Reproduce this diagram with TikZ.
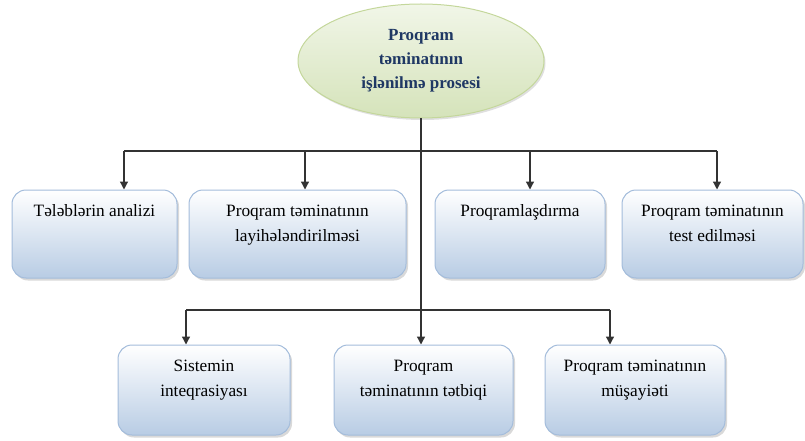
\documentclass[tikz,border=0pt]{standalone}
\usepackage{fontspec}
\setmainfont{Liberation Serif}
\usetikzlibrary{shapes.geometric,shadows,arrows.meta,positioning}
\definecolor{boxblue}{HTML}{B8CCE4}
\definecolor{boxedge}{HTML}{A3BCDB}
\definecolor{greentop}{HTML}{F1F6E8}
\definecolor{greenbot}{HTML}{D5E3BA}
\definecolor{greenedge}{HTML}{C4D79B}
\definecolor{navy}{HTML}{1F3864}
\begin{document}
\begin{tikzpicture}[x=1pt,y=-1pt,
  box/.style={draw=boxedge, line width=1pt, rounded corners=14pt,
    top color=white, bottom color=boxblue, inner sep=0pt,
    drop shadow={shadow xshift=2pt,shadow yshift=-2.5pt,opacity=.3}},
  boxtext/.style={inner sep=0pt, align=center, font=\fontsize{17.3}{25}\selectfont},
  title/.style={ellipse, draw=greenedge, line width=1pt, top color=greentop,
    bottom color=greenbot, minimum width=246pt, minimum height=114pt,
    align=center, text=navy, font=\fontsize{17}{24}\selectfont\bfseries,
    drop shadow={shadow xshift=1.5pt,shadow yshift=-2pt,opacity=.25}},
  bar/.style={line width=1.3pt, draw=black!80},
  conn/.style={bar, -{Triangle[length=8pt,width=8pt]}}
]
\useasboundingbox (0,0) rectangle (805,441);

\node[title] (t) at (421,61) {Proqram\\təminatının\\işlənilmə prosesi};

\node[box, minimum width=165pt, minimum height=88pt] (b1) at (94.5,234) {};
\node[box, minimum width=217pt, minimum height=88pt] (b2) at (297.5,234) {};
\node[box, minimum width=170pt, minimum height=88pt] (b3) at (520,234) {};
\node[box, minimum width=181pt, minimum height=88pt] (b4) at (712.5,234) {};
\node[box, minimum width=172pt, minimum height=90pt] (b5) at (204,390) {};
\node[box, minimum width=179pt, minimum height=90pt] (b6) at (423.5,390) {};
\node[box, minimum width=180pt, minimum height=90pt] (b7) at (635,390) {};

\node[boxtext, below=15pt of b1.north] (l1) {Tələblərin analizi};
\node[boxtext, below=15pt of b2.north] (l2) {Proqram təminatının\\layihələndirilməsi};
\node[boxtext, below=15pt of b3.north] (l3) {Proqramlaşdırma};
\node[boxtext, below=15pt of b4.north] (l4) {Proqram təminatının\\test edilməsi};
\node[boxtext, below=15pt of b5.north] (l5) {Sistemin\\inteqrasiyası};
\node[boxtext, below=15pt of b6.north] (l6) {Proqram\\təminatının tətbiqi};
\node[boxtext, below=15pt of b7.north] (l7) {Proqram təminatının\\müşayiəti};

\coordinate (a1) at (124,151);
\coordinate (a2) at (305,151);
\coordinate (a3) at (530,151);
\coordinate (a4) at (717,151);
\coordinate (c1) at (186,310);
\coordinate (c3) at (610,310);

\draw[conn] (t.south) -- (t.south |- b6.north);
\draw[bar] (a1) -- (a4);
\draw[bar] (c1) -- (c3);
\draw[conn] (a1) -- (a1 |- b1.north);
\draw[conn] (a2) -- (a2 |- b2.north);
\draw[conn] (a3) -- (a3 |- b3.north);
\draw[conn] (a4) -- (a4 |- b4.north);
\draw[conn] (c1) -- (c1 |- b5.north);
\draw[conn] (c3) -- (c3 |- b7.north);
\end{tikzpicture}
\end{document}
